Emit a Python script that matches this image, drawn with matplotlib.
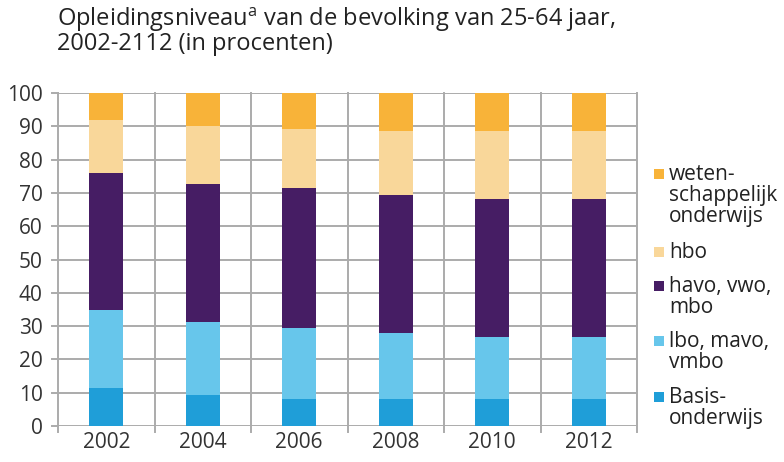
import matplotlib
matplotlib.use("Agg")
import matplotlib.pyplot as plt
from matplotlib.patches import Rectangle
import numpy as np

plt.rcParams['font.family'] = ['Open Sans', 'DejaVu Sans']
plt.rcParams['mathtext.fontset'] = 'custom'
plt.rcParams['mathtext.rm'] = 'Open Sans'

years = ["2002", "2004", "2006", "2008", "2010", "2012"]
basis = [11.5, 9.3, 8.1, 8.0, 8.0, 8.0]
lbo = [23.3, 21.9, 21.3, 19.9, 18.7, 18.7]
havo = [41.2, 41.5, 42.1, 41.5, 41.5, 41.5]
hbo = [16.0, 17.4, 17.7, 19.2, 20.4, 20.4]
wo = [8.0, 9.9, 10.8, 11.4, 11.4, 11.4]

series = [
    ("Basis-\nonderwijs", basis, "#1F9ED8"),
    ("lbo, mavo,\nvmbo", lbo, "#67C6EB"),
    ("havo, vwo,\nmbo", havo, "#461D64"),
    ("hbo", hbo, "#F9D79A"),
    ("weten-\nschappelijk\nonderwijs", wo, "#F8B339"),
]

fig = plt.figure(figsize=(7.84, 4.62), dpi=100)
ax = fig.add_axes([58/784, 36/462, (637-58)/784, (426-93)/462])

x = np.arange(len(years))
bottom = np.zeros(len(years))
for name, vals, col in series:
    ax.bar(x, vals, bottom=bottom, width=0.35, color=col, zorder=3, linewidth=0)
    bottom += np.array(vals)

ax.set_xlim(-0.5, len(years) - 0.5)
ax.set_ylim(0, 100)
ax.set_yticks(range(0, 101, 10))
for s in ax.spines.values():
    s.set_visible(False)
gc = "#ABABAB"
for yv in range(0, 101, 10):
    ax.axhline(yv, color=gc, lw=1.4, zorder=1, xmin=0, xmax=1)
    ax.plot([-0.56, -0.5], [yv, yv], color=gc, lw=1.4, clip_on=False)
for xb in np.arange(-0.5, len(years), 1.0):
    ax.plot([xb, xb], [-1.8, 100], color=gc, lw=1.4, clip_on=False, zorder=1)

ax.set_xticks(x)
ax.set_xticklabels(years)
ax.tick_params(axis='both', length=0, labelsize=15, colors="#333333")
ax.tick_params(axis='y', pad=11)
ax.tick_params(axis='x', pad=4)

fig.text(57/784, 1 - 20/462, r"Opleidingsniveau$^{\mathrm{a}}$ van de bevolking van 25-64 jaar,",
         fontsize=17, color="#222222", va='center', ha='left')
fig.text(57/784, 1 - 44/462, "2002-2112 (in procenten)",
         fontsize=17, color="#222222", va='center', ha='left')

# legend (drawn manually, square aligned with first text line)
leg_items = list(reversed(series))
leg_y = [174, 252, 286, 341, 397]
for (name, vals, col), yy in zip(leg_items, leg_y):
    fig.add_artist(Rectangle((654/784, 1 - (yy + 5)/462), 10/784, 10/462,
                             transform=fig.transFigure, color=col, lw=0))
    fig.text(669/784, 1 - (yy - 10)/462, name, fontsize=15, color="#222222",
             va='top', ha='left', linespacing=1.0)

fig.savefig("out.png", dpi=100)
